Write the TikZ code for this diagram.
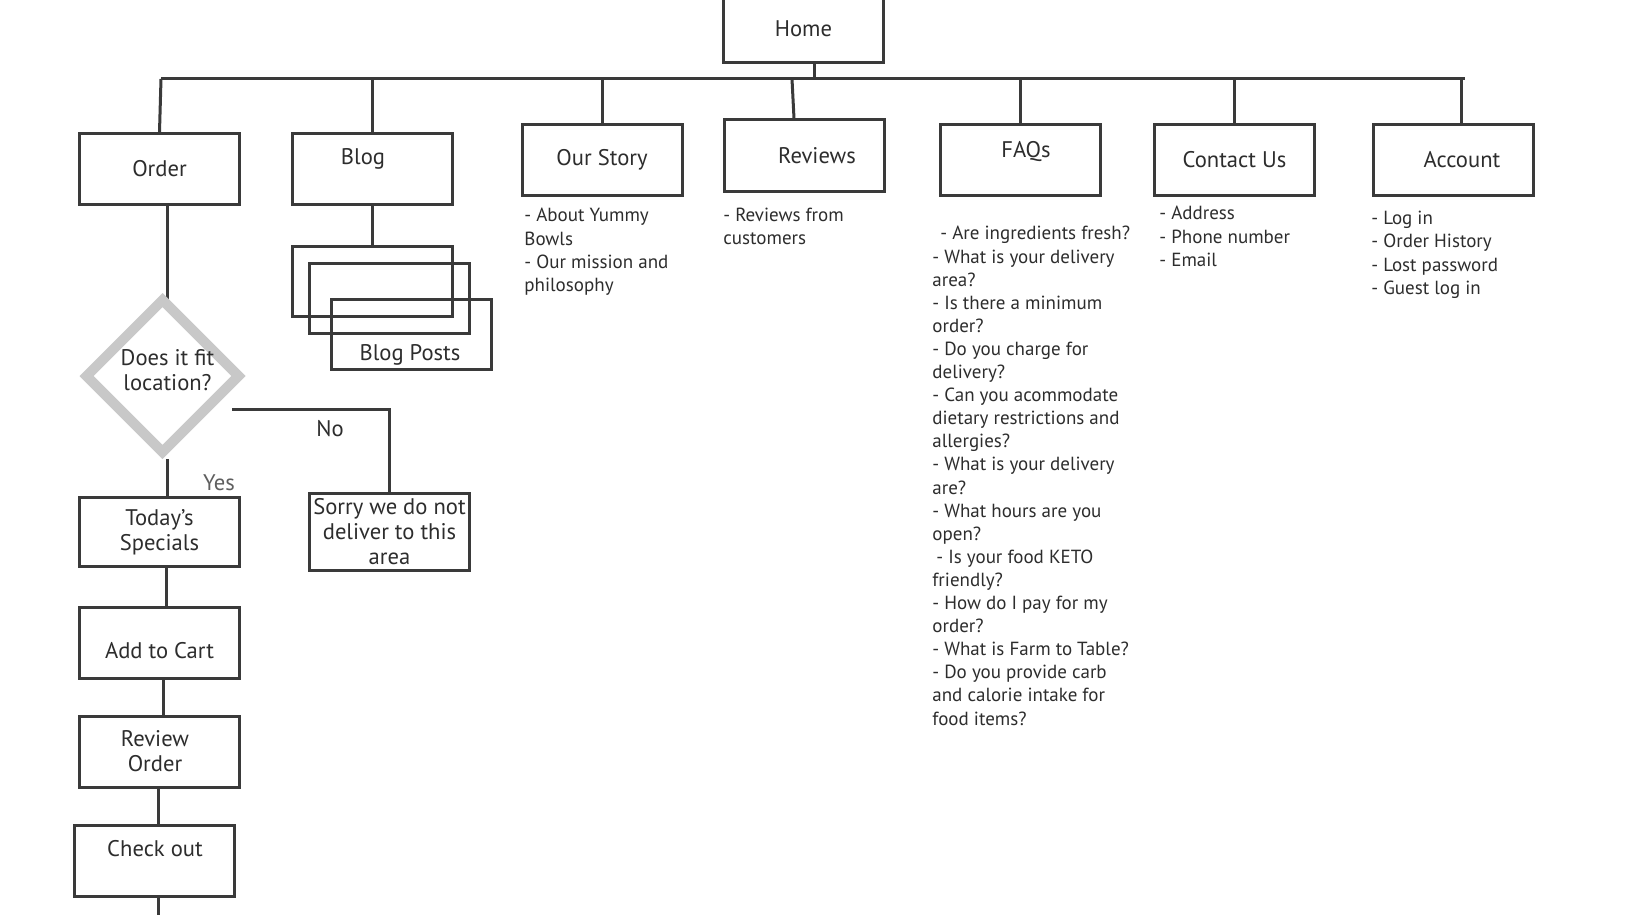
\documentclass[tikz,border=0pt]{standalone}
\usepackage{fontspec}
\setmainfont{PT Sans}
\usepackage{xcolor}
\usepackage{tikz}
\usetikzlibrary{shapes.geometric, positioning, calc}
\definecolor{myink}{RGB}{45,45,45}
\definecolor{myline}{RGB}{58,58,58}
\definecolor{mygrey}{RGB}{200,200,200}
\definecolor{mysoft}{RGB}{95,95,95}
\tikzset{
  page/.style={rectangle, draw=myline, line width=1.5pt,
    minimum width=80pt, minimum height=35.5pt, inner sep=0pt,
    align=center, text=myink, font=\fontsize{11.3}{12.5}\selectfont},
  pagelbl/.style={text=myink, align=center, inner sep=0pt,
    font=\fontsize{11.3}{12.5}\selectfont},
  decision/.style={diamond, draw=mygrey, line width=5pt,
    minimum width=78pt, minimum height=78pt, inner sep=0pt},
  note/.style={anchor=north west, align=left, inner sep=0pt,
    text=myink, font=\fontsize{9.5}{11.55}\selectfont},
  link/.style={draw=myline, line width=1.5pt}
}
\begin{document}
\begin{tikzpicture}[x=0.5pt, y=-0.5pt]
  \useasboundingbox (0,0) rectangle (1628,915);
  \fill[white] (0,0) rectangle (1628,915);
  \clip (0,0) rectangle (1628,915);

  % Home and the main bar
  \node[page, minimum height=37.5pt, label={[pagelbl, shift={(0,4)}]center:Home}] (home) at (803.5,25) {};
  \coordinate (barL) at (161,79);
  \coordinate (barR) at (1465,79);
  \draw[link] (barL) -- (barR);
  \draw[link] ([xshift=5.25pt]home.south) -- ([xshift=5.25pt]home.south |- barL);

  % Sections
  \node[page] (order) at (159.5,169) {Order};
  \node[page, label={[pagelbl, shift={(-9.5,-10)}]center:Blog}] (blog) at (372.5,169) {};
  \node[page] (story) at (602,160) {Our Story};
  \node[page, label={[pagelbl, shift={(12.5,0)}]center:Reviews}] (reviews) at (804.5,155.5) {};
  \node[page, label={[pagelbl, shift={(5.5,-8)}]center:FAQs}] (faqs) at (1020.5,160) {};
  \node[page] (contact) at (1234.5,160) {Contact Us};
  \node[page, label={[pagelbl, shift={(9,0)}]center:Account}] (account) at (1453,160) {};

  \draw[link] (order.north) -- (barL);
  \foreach \n in {blog, story, faqs, contact}
    \draw[link] (\n.north) -- (\n.north |- barL);
  \draw[link] ([xshift=-5.25pt]reviews.north) -- ([xshift=-6.25pt]reviews.north |- barL);
  \draw[link] ([xshift=4pt]account.north) -- ([xshift=4pt]account.north |- barL);

  % Notes under the sections
  \node[note] (storynote) at (524,208) {- About Yummy\\Bowls\\- Our mission and\\philosophy};
  \node[note] (reviewnote) at (723,208) {- Reviews from\\customers};
  \node[note] (faqnote) at (932,226) {\hspace*{4pt}- Are ingredients fresh?\\- What is your delivery\\area?\\- Is there a minimum\\order?\\- Do you charge for\\delivery?\\- Can you acommodate\\dietary restrictions and\\allergies?\\- What is your delivery\\are?\\- What hours are you\\open?\\\hspace*{2pt}- Is your food KETO\\friendly?\\- How do I pay for my\\order?\\- What is Farm to Table?\\- Do you provide carb\\and calorie intake for\\food items?};
  \node[note] (contactnote) at (1159,206) {- Address\\- Phone number\\- Email};
  \node[note] (accountnote) at (1371,211) {- Log in\\- Order History\\- Lost password\\- Guest log in};

  % Blog posts stack
  \node[page, minimum height=35pt] (post1) at (372.5,281.5) {};
  \node[page, minimum height=35pt] (post2) at (389.5,298) {};
  \node[page, minimum height=35pt, label={[pagelbl, shift={(-1,20)}]center:Blog Posts}] (post3) at (411,334.5) {};
  \draw[link] (blog.south) -- (post1.north);

  % Order flow
  \draw[link] ([xshift=3.75pt]order.south) -- ++(0,95);
  \node[decision, label={[pagelbl, shift={(5,-6)}]center:Does it fit\\location?}] (fit) at (162.5,376) {};
  \node[page, minimum height=34.5pt] (today) at (159.5,532) {Today's\\Specials};
  \node[page, label={[pagelbl, shift={(0,8)}]center:Add to Cart}] (cart) at (159.5,643) {};
  \node[page, label={[pagelbl, shift={(-4.5,0)}]center:Review\\Order}] (review) at (159.5,751.5) {};
  \node[page, label={[pagelbl, shift={(0.5,-12)}]center:Check out}] (checkout) at (154.5,861) {};
  \node[page, minimum height=38.5pt] (sorry) at (389.5,532) {Sorry we do not\\deliver to this\\area};

  \draw[link] ([xshift=2.25pt]fit.south) -- ([xshift=2.25pt]fit.south |- today.north);
  \draw[link] ([xshift=3.25pt]today.south) -- ([xshift=3.25pt]today.south |- cart.north);
  \draw[link] ([xshift=1.75pt]cart.south) -- ([xshift=1.75pt]cart.south |- review.north);
  \draw[link] ([xshift=-0.75pt]review.south) -- ([xshift=-0.75pt]review.south |- checkout.north);
  \coordinate (flowend) at (158,930);
  \draw[link] ([xshift=1.75pt]checkout.south) -- (flowend);

  % Yes / No branches
  \coordinate (nostart) at (232,409);
  \draw[link] (nostart) -- (nostart -| sorry.north) -- (sorry.north);
  \node[pagelbl] (no) at (330,429) {No};
  \node[pagelbl, text=mysoft] (yes) at (219,483) {Yes};
\end{tikzpicture}
\end{document}
